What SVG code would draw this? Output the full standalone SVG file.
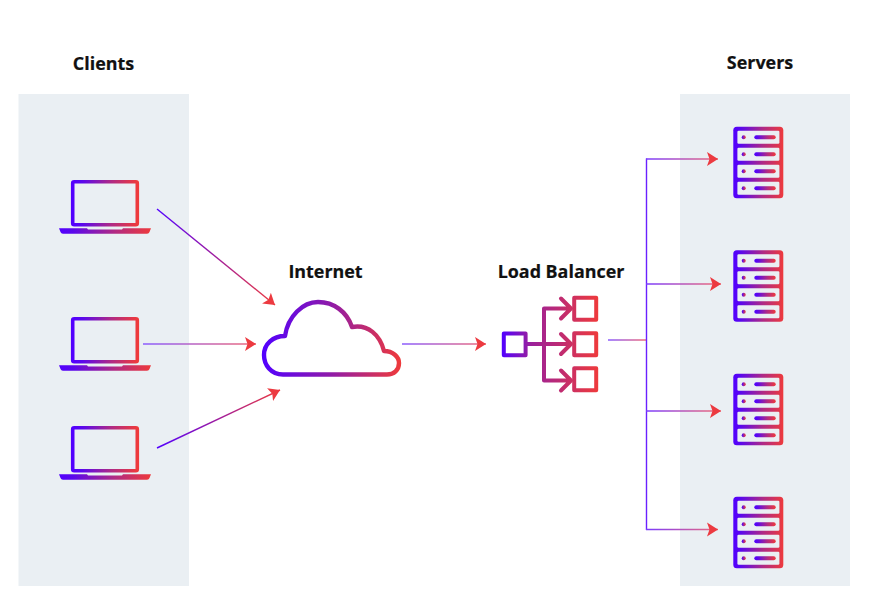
<svg xmlns="http://www.w3.org/2000/svg" xmlns:xlink="http://www.w3.org/1999/xlink" width="883" height="607" viewBox="0 0 883 607">
  <style>
    .label { font-family: "Open Sans", "Liberation Sans", sans-serif; font-weight: 700; font-size: 17.9px; fill: #111; text-anchor: middle; stroke: #111; stroke-width: 0.2px; }
    .panel { fill: #eaeff3; }
    .conn { fill: none; stroke-width: 1.4; marker-end: url(#head); }
    .plain { fill: none; stroke-width: 1.4; }
    .lap { fill: none; stroke: url(#g); stroke-width: 3.6; stroke-linejoin: round; }
    .slot { fill: #eaeff3; }
    .gf { fill: url(#g); }
    .lb { fill: none; stroke: url(#lbg); stroke-width: 4; stroke-linejoin: round; stroke-linecap: round; }
  </style>
  <defs>
    <linearGradient id="g" x1="0" y1="0" x2="1" y2="0">
      <stop offset="0" stop-color="#5200ff"/>
      <stop offset="0.15" stop-color="#5a08ec"/>
      <stop offset="0.6" stop-color="#b02a84"/>
      <stop offset="1" stop-color="#ee3a3c"/>
    </linearGradient>
    <linearGradient id="cg" gradientUnits="userSpaceOnUse" x1="262" y1="345" x2="400" y2="345">
      <stop offset="0" stop-color="#5200ff"/>
      <stop offset="0.5" stop-color="#8f1ba8"/>
      <stop offset="1" stop-color="#ee3a3c"/>
    </linearGradient>
    <linearGradient id="lbg" gradientUnits="userSpaceOnUse" x1="502" y1="344" x2="598" y2="344">
      <stop offset="0" stop-color="#5200ff"/>
      <stop offset="0.3" stop-color="#9a209c"/>
      <stop offset="1" stop-color="#ee3a3c"/>
    </linearGradient>
    <linearGradient id="a1" gradientUnits="userSpaceOnUse" x1="157" y1="209" x2="275" y2="305"><stop offset="0" stop-color="#5200ff"/><stop offset="1" stop-color="#ee3a3c"/></linearGradient>
    <linearGradient id="a2" gradientUnits="userSpaceOnUse" x1="143" y1="344" x2="256" y2="344"><stop offset="0" stop-color="#8a5cff"/><stop offset="1" stop-color="#f06a78"/></linearGradient>
    <linearGradient id="a3" gradientUnits="userSpaceOnUse" x1="157" y1="448" x2="280" y2="390"><stop offset="0" stop-color="#5200ff"/><stop offset="1" stop-color="#ee3a3c"/></linearGradient>
    <linearGradient id="a4" gradientUnits="userSpaceOnUse" x1="402" y1="344" x2="486" y2="344"><stop offset="0" stop-color="#8a5cff"/><stop offset="1" stop-color="#f06a78"/></linearGradient>
    <linearGradient id="a5" gradientUnits="userSpaceOnUse" x1="608" y1="340" x2="646" y2="340"><stop offset="0" stop-color="#8a5cff"/><stop offset="1" stop-color="#f06a78"/></linearGradient>
    <linearGradient id="a6" gradientUnits="userSpaceOnUse" x1="646" y1="0" x2="718" y2="0"><stop offset="0" stop-color="#7a3cff"/><stop offset="1" stop-color="#f06a78"/></linearGradient>
    <marker id="head" markerUnits="userSpaceOnUse" markerWidth="12" markerHeight="16" refX="11" refY="7.5" orient="auto">
      <path d="M0 0.5 L11 7.5 L0 14.5 L2.5 7.5 Z" fill="#ec3a40"/>
    </marker>
    <g id="laptop">
      <rect class="lap" x="72.7" y="181.7" width="64.6" height="43" rx="1.5"/>
      <path class="gf" d="M59 228.2 H87 L88 229.6 H122 L123 228.2 H151 L149.5 232 Q149 233.8 147 233.8 H63 Q61 233.8 60.5 232 Z"/>
    </g>
    <g id="server">
      <rect class="gf" x="733.3" y="126.7" width="50" height="71.6" rx="3.5"/>
      <rect class="slot" x="737.4" y="130.8" width="42" height="13" rx="1.2"/>
      <rect class="slot" x="737.4" y="147.8" width="42" height="13" rx="1.2"/>
      <rect class="slot" x="737.4" y="164.8" width="42" height="13" rx="1.2"/>
      <rect class="slot" x="737.4" y="181.8" width="42" height="13" rx="1.2"/>
      <circle class="gf" cx="743.7" cy="137.3" r="2"/>
      <circle class="gf" cx="743.7" cy="154.3" r="2"/>
      <circle class="gf" cx="743.7" cy="171.3" r="2"/>
      <circle class="gf" cx="743.7" cy="188.3" r="2"/>
      <rect class="gf" x="754.3" y="135.3" width="21.4" height="4" rx="2"/>
      <rect class="gf" x="754.3" y="152.3" width="21.4" height="4" rx="2"/>
      <rect class="gf" x="754.3" y="169.3" width="21.4" height="4" rx="2"/>
      <rect class="gf" x="754.3" y="186.3" width="21.4" height="4" rx="2"/>
    </g>
  </defs>

  <rect width="883" height="607" fill="#fff"/>

  <g id="clients-panel">
    <rect class="panel" x="18.5" y="94" width="170.5" height="492"/>
    <text class="label" x="103.5" y="69.5">Clients</text>
  </g>
  <g id="servers-panel">
    <rect class="panel" x="680" y="94" width="170" height="492"/>
    <text class="label" x="760" y="69">Servers</text>
  </g>

  <g id="connectors">
    <line class="conn" x1="157" y1="209" x2="275" y2="305" stroke="url(#a1)"/>
    <line class="conn" x1="143" y1="344" x2="256" y2="344" stroke="url(#a2)"/>
    <line class="conn" x1="157" y1="448" x2="280" y2="390" stroke="url(#a3)"/>
    <line class="conn" x1="402" y1="344" x2="486" y2="344" stroke="url(#a4)"/>
    <line class="plain" x1="608" y1="340" x2="646" y2="340" stroke="url(#a5)"/>
    <line class="plain" x1="646.5" y1="158.5" x2="646.5" y2="530" stroke="#6a20ff"/>
    <line class="conn" x1="646" y1="159" x2="718" y2="159" stroke="url(#a6)"/>
    <line class="conn" x1="646" y1="284" x2="721" y2="284" stroke="url(#a6)"/>
    <line class="conn" x1="646" y1="411" x2="721" y2="411" stroke="url(#a6)"/>
    <line class="conn" x1="646" y1="529.5" x2="718" y2="529.5" stroke="url(#a6)"/>
  </g>

  <g id="client-1"><use href="#laptop"/></g>
  <g id="client-2"><use href="#laptop" y="137"/></g>
  <g id="client-3"><use href="#laptop" y="246"/></g>

  <g id="internet">
    <text class="label" x="325.5" y="277.5">Internet</text>
    <path d="M283 374.5 C271 374.5 264 365 264 355 C264 344 273 336 285 336 C288 316 303 302 318 302 C334 302 347 312 352 327 C368 324 380 335 384 351 C393 351 399 357 399 363 C399 370 394 374.5 387 374.5 Z" fill="none" stroke="url(#cg)" stroke-width="4.4" stroke-linejoin="round"/>
  </g>

  <g id="load-balancer">
    <text class="label" x="561" y="277.5">Load Balancer</text>
    <rect class="lb" x="503.8" y="333.4" width="21.8" height="21.8"/>
    <rect class="lb" x="574.2" y="297.7" width="22" height="22"/>
    <rect class="lb" x="574.2" y="333.2" width="22" height="22"/>
    <rect class="lb" x="574.2" y="368.2" width="22" height="22"/>
    <path class="lb" d="M526 344 H571 M544 344 V308.5 H571 M544 344 V380.5 H571 M561 298.5 L571 308.5 L561 318.5 M561 334 L571 344 L561 354 M561 370.5 L571 380.5 L561 390.5"/>
  </g>

  <g id="server-1"><use href="#server"/></g>
  <g id="server-2"><use href="#server" y="123.5"/></g>
  <g id="server-3"><use href="#server" y="247"/></g>
  <g id="server-4"><use href="#server" y="370"/></g>
</svg>
